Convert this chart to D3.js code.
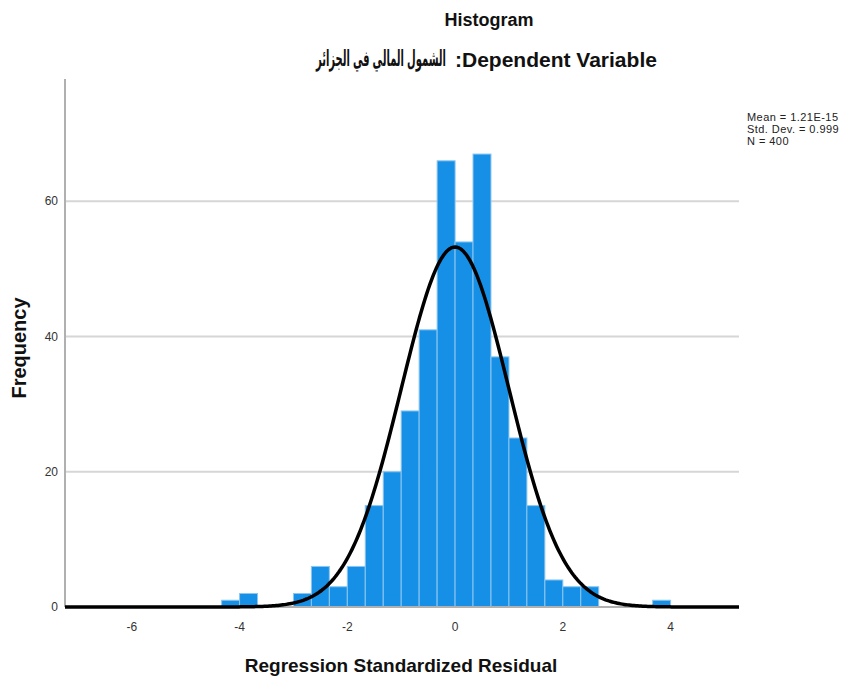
<!DOCTYPE html>
<html>
<head>
<meta charset="utf-8">
<script src="https://cdn.jsdelivr.net/npm/d3@7"></script>
<style>
  body { margin: 0; background: #fff; }
  svg { display: block; font-family: "Liberation Sans", Arial, "DejaVu Sans", sans-serif; }
</style>
</head>
<body>
<svg id="chart" width="844" height="682"></svg>
<script>
// ---- data ----
const binStarts = [-4.333, -4.000, -3.000, -2.667, -2.333, -2.000, -1.667, -1.333, -1.000, -0.667,
                   -0.333, 0.000, 0.333, 0.667, 1.000, 1.333, 1.667, 2.000, 2.333, 3.667];
const binCounts = [1, 2, 2, 6, 3, 6, 15, 20, 29, 41,
                   66, 54, 67, 37, 25, 15, 4, 3, 3, 1];
const binWidth = 1 / 3;
const xTicks = [-6, -4, -2, 0, 2, 4];
const yTicks = [0, 20, 40, 60];
const statMean = 1.21e-15;
const statSD = 0.999;
const statN = 400;
const legendLines = ["Mean = 1.21E-15", "Std. Dev. = 0.999", "N = 400"];
const titleText = "Histogram";
const subtitleLatin = ":Dependent Variable";
const subtitleArabicWords = ["الشمول", "المالي", "في", "الجزائر"];

// ---- layout ----
const svg = d3.select("#chart");
const pLeft = 65, pRight = 739, pTop = 79, pBottom = 607;
const x = d3.scaleLinear().domain([-7.24, 5.27]).range([pLeft, pRight]);
const y = d3.scaleLinear().domain([0, 78.1]).range([pBottom, pTop]);

// grid lines
svg.append("g").selectAll("line").data(yTicks.filter(d => d > 0)).join("line")
  .attr("x1", pLeft).attr("x2", pRight)
  .attr("y1", d => y(d)).attr("y2", d => y(d))
  .attr("stroke", "#d6d6d6").attr("stroke-width", 2);

// bars
svg.append("g").selectAll("rect").data(binStarts.map((s, i) => ({ x0: s, c: binCounts[i] }))).join("rect")
  .attr("x", d => x(d.x0))
  .attr("width", d => x(d.x0 + binWidth) - x(d.x0))
  .attr("y", d => y(d.c))
  .attr("height", d => y(0) - y(d.c))
  .attr("fill", "#1690e6")
  .attr("stroke", "#8cc6f0")
  .attr("stroke-width", 1);

// baseline
svg.append("line").attr("x1", pLeft).attr("x2", pRight).attr("y1", y(0)).attr("y2", y(0))
  .attr("stroke", "#b0b0b0").attr("stroke-width", 2);

// y axis line
svg.append("line").attr("x1", pLeft).attr("x2", pLeft).attr("y1", pTop).attr("y2", pBottom)
  .attr("stroke", "#b0b0b0").attr("stroke-width", 2);

// normal curve
const curveScale = statN * binWidth;
const dom = x.domain();
const xs = d3.range(400).map(i => dom[0] + (dom[1] - dom[0]) * i / 399);
const pdf = v => Math.exp(-0.5 * ((v - statMean) / statSD) ** 2) / (statSD * Math.sqrt(2 * Math.PI));
svg.append("path")
  .datum(xs)
  .attr("fill", "none").attr("stroke", "#000").attr("stroke-width", 3.5)
  .attr("stroke-linejoin", "round")
  .attr("d", d3.line().x(d => x(d)).y(d => y(curveScale * pdf(d))));

// tick labels
svg.append("g").selectAll("text").data(yTicks).join("text")
  .attr("x", 58).attr("y", d => y(d) + 4)
  .attr("text-anchor", "end").attr("font-size", 12).attr("fill", "#333")
  .text(d => d);
svg.append("g").selectAll("text").data(xTicks).join("text")
  .attr("x", d => x(d)).attr("y", 631)
  .attr("text-anchor", "middle").attr("font-size", 12).attr("fill", "#333")
  .text(d => d);

// title
svg.append("text").attr("x", 489).attr("y", 26).attr("text-anchor", "middle")
  .attr("font-size", 18).attr("font-weight", "bold").attr("fill", "#111").text(titleText);

// subtitle: Latin part
svg.append("text").attr("x", 455).attr("y", 67)
  .attr("font-size", 21).attr("font-weight", "bold").attr("fill", "#111")
  .text(subtitleLatin);

// subtitle: Arabic part, words in right-to-left reading order (first word nearest the colon)
const arG = svg.append("g");
const arInner = arG.append("g");
let cursor = 0;
const gap = 6;
subtitleArabicWords.slice().reverse().forEach(w => {
  const t = arInner.append("text").attr("x", cursor).attr("y", 0)
    .attr("font-family", "'DejaVu Sans Condensed', 'DejaVu Sans', sans-serif")
    .attr("font-size", 22).attr("font-weight", "bold").attr("fill", "#111")
    .text(w);
  cursor += t.node().getComputedTextLength() + gap;
});
const arW = cursor - gap;
const arTarget = 130;
arG.attr("transform", `translate(316,66) scale(${arTarget / arW},1)`);

// axis titles
svg.append("text").attr("x", 401).attr("y", 672).attr("text-anchor", "middle")
  .attr("font-size", 19).attr("font-weight", "bold").attr("fill", "#111")
  .text("Regression Standardized Residual");
svg.append("text").attr("transform", "translate(26,348) rotate(-90)").attr("text-anchor", "middle")
  .attr("font-size", 20).attr("font-weight", "bold").attr("fill", "#111")
  .text("Frequency");

// legend
svg.append("g").selectAll("text").data(legendLines).join("text")
  .attr("x", 747).attr("y", (d, i) => 121 + i * 12)
  .attr("font-size", 11).attr("letter-spacing", 0.45).attr("fill", "#222")
  .text(d => d);
</script>
</body>
</html>
